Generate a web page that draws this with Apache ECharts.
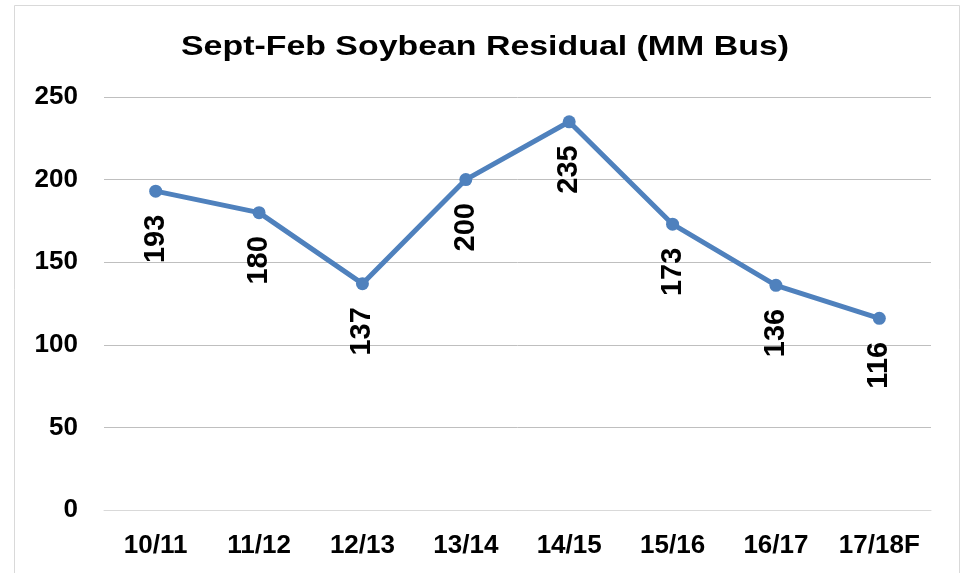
<!DOCTYPE html>
<html><head><meta charset="utf-8">
<script src="https://cdn.jsdelivr.net/npm/echarts@6/dist/echarts.min.js"></script>
<style>html,body{margin:0;padding:0;background:#fff}#c{width:967px;height:573px}</style>
</head><body><div id="c"></div>
<script>
const titleText = 'Sept-Feb Soybean Residual (MM Bus)';
const categories = ['10/11','11/12','12/13','13/14','14/15','15/16','16/17','17/18F'];
const residual = [193,180,137,200,235,173,136,116];
const yTicks = [0,50,100,150,200,250];

const chart = echarts.init(document.getElementById('c'));
chart.setOption({
  animation:false,
  backgroundColor:'#fff',
  graphic:[
    {type:'rect',shape:{x:14.5,y:5.5,width:945,height:620},
      style:{fill:'none',stroke:'#d9d9d9',lineWidth:1},silent:true},
    {type:'text',x:485,y:47,scaleX:1.21,scaleY:1,
      style:{text:titleText,font:'bold 28px "Liberation Sans"',fill:'#000',
        textAlign:'center',textVerticalAlign:'middle'},silent:true}
  ],
  grid:{left:104,right:36,top:97,bottom:63},
  xAxis:{type:'category',data:categories,boundaryGap:true,
    axisLine:{lineStyle:{color:'#d9d9d9',width:1}},axisTick:{show:false},
    axisLabel:{interval:0,margin:23,fontFamily:'Liberation Sans',fontWeight:'bold',fontSize:26,color:'#000'}},
  yAxis:{type:'value',min:yTicks[0],max:yTicks[yTicks.length-1],interval:50,
    axisLine:{show:false},axisTick:{show:false},
    splitLine:{lineStyle:{color:'#bfbfbf',width:1}},
    axisLabel:{margin:26,fontFamily:'Liberation Sans',fontWeight:'bold',fontSize:26,color:'#000'}},
  series:[{type:'line',data:residual,symbol:'circle',symbolSize:13,
    lineStyle:{color:'#4f81bd',width:5},itemStyle:{color:'#4f81bd'},
    label:{show:true,position:'bottom',distance:17,rotate:90,align:'right',verticalAlign:'middle',
      fontFamily:'Liberation Sans',fontWeight:'bold',fontSize:29,color:'#000'}}]
});
</script></body></html>
